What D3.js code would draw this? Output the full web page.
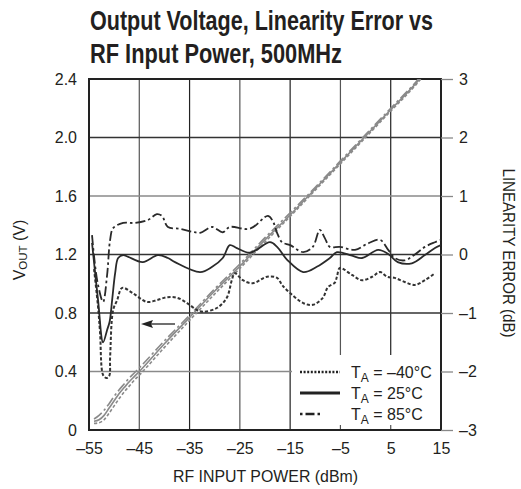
<!DOCTYPE html>
<html><head><meta charset="utf-8">
<script src="https://cdn.jsdelivr.net/npm/d3@7"></script>
<style>
html,body{margin:0;padding:0;background:#fff;}
svg{display:block;}
</style></head>
<body>
<svg id="chart" width="521" height="489"></svg>
<script>
// ---------- DATA ----------
const xTicks = [-55, -45, -35, -25, -15, -5, 5, 15];
const xTickLabels = ["–55", "–45", "–35", "–25", "–15", "–5", "5", "15"];
const yLeftTicks = [0, 0.4, 0.8, 1.2, 1.6, 2.0, 2.4];
const yLeftLabels = ["0", "0.4", "0.8", "1.2", "1.6", "2.0", "2.4"];
const yRightTicks = [-3, -2, -1, 0, 1, 2, 3];
const yRightLabels = ["–3", "–2", "–1", "0", "1", "2", "3"];

// Output voltage (V) vs RF input power (dBm)
const voutPin = [-54, -53, -52, -51, -50, -49, -48, -47, -46, -45, -40, -35, -30, -25, -20, -15, -10, -5, 0, 5, 10, 11];
const voutM40 = [0.045, 0.05, 0.07, 0.115, 0.165, 0.215, 0.26, 0.30, 0.34, 0.375, 0.565, 0.75, 0.93, 1.105, 1.285, 1.46, 1.64, 1.82, 2.0, 2.18, 2.36, 2.40];
const vout25  = [0.06, 0.07, 0.10, 0.15, 0.20, 0.25, 0.29, 0.33, 0.365, 0.40, 0.59, 0.77, 0.95, 1.12, 1.30, 1.47, 1.65, 1.83, 2.01, 2.19, 2.37, 2.41];
const vout85  = [0.075, 0.10, 0.135, 0.18, 0.23, 0.275, 0.315, 0.355, 0.39, 0.425, 0.61, 0.785, 0.965, 1.135, 1.315, 1.485, 1.66, 1.84, 2.02, 2.20, 2.38, 2.42];

// Linearity error (dB)
const errPinM40 = [-54, -53.2, -52.8, -52.2, -51.6, -51.0, -50.8, -50.2, -49.4, -48.4, -46.3, -43.5, -41.5, -39.5, -37.5, -35.5, -33.5, -32.3, -29.5, -27.6, -26.6, -26.0, -24.4, -22.4, -19.6, -17.6, -16.6, -15.0, -12.4, -10.5, -8.5, -7.5, -6.1, -5.7, -5.1, -2.7, -0.7, 1.3, 2.9, 4.3, 5.8, 7.8, 9.8, 11.8, 13.8];
const errM40    = [-0.25, -0.9, -1.34, -2.06, -2.11, -2.08, -1.75, -0.95, -0.78, -0.57, -0.66, -0.81, -0.78, -0.73, -0.74, -0.83, -0.95, -0.98, -0.91, -0.74, -0.44, -0.32, -0.44, -0.49, -0.38, -0.40, -0.52, -0.66, -0.83, -0.86, -0.74, -0.56, -0.48, -0.38, -0.23, -0.35, -0.44, -0.38, -0.30, -0.38, -0.40, -0.47, -0.52, -0.44, -0.32];

const errPin25 = [-54.4, -53.2, -52.2, -51.4, -50.9, -50.4, -49.8, -49.2, -48.2, -47.2, -44.3, -41.3, -39.3, -37.9, -32.9, -30.5, -28.4, -27.0, -25.6, -23.0, -19.0, -17.6, -15.6, -12.4, -9.7, -7.1, -5.7, -2.7, -0.7, 2.5, 4.5, 6.4, 9.2, 11.8, 13.8, 15];
const err25    = [0.2, -0.78, -1.5, -1.29, -1.15, -0.78, -0.32, -0.06, -0.01, -0.04, -0.13, -0.01, -0.06, -0.13, -0.30, -0.21, -0.06, 0.16, 0.11, 0.03, 0.21, 0.13, -0.09, -0.30, -0.21, -0.06, 0.04, -0.02, -0.06, 0.08, 0.01, -0.13, -0.15, -0.01, 0.11, 0.16];

const errPin85 = [-54.4, -53.8, -53.2, -52.2, -51.4, -50.8, -50.2, -48.2, -45.9, -43.3, -41.5, -40.5, -39.3, -36.9, -34.5, -32.9, -30.5, -28.4, -27.0, -23.0, -19.4, -18.4, -17.6, -16.6, -15.0, -12.4, -10.5, -9.1, -8.1, -7.1, -5.1, -2.1, 0.5, 2.9, 4.5, 5.8, 7.8, 9.8, 11.8, 13.8, 15];
const err85    = [0.33, -0.18, -0.52, -0.81, -0.35, 0.25, 0.45, 0.54, 0.54, 0.59, 0.69, 0.66, 0.47, 0.44, 0.39, 0.37, 0.47, 0.38, 0.47, 0.44, 0.66, 0.56, 0.37, 0.21, 0.16, 0.04, 0.13, 0.42, 0.28, 0.13, 0.13, 0.08, 0.19, 0.25, 0.08, -0.06, -0.10, 0.0, 0.13, 0.21, 0.25];

const legendLabels = [["T", "A", " = –40°C"], ["T", "A", " = 25°C"], ["T", "A", " = 85°C"]];

// ---------- DRAW ----------
const svg = d3.select("#chart");
const X0 = 89, X1 = 441, Y0 = 79, Y1 = 430;
const x = d3.scaleLinear().domain([-55, 15]).range([X0, X1]);
const yL = d3.scaleLinear().domain([0, 2.4]).range([Y1, Y0]);
const yR = d3.scaleLinear().domain([-3, 3]).range([Y1, Y0]);
const FONT = "'Liberation Sans', Arial, Helvetica, sans-serif";
const NARROW = "'Liberation Sans Narrow', 'Arial Narrow', 'Liberation Sans', Arial, sans-serif";
const INK = "#231f20";

// Title
const title = svg.append("g").attr("font-family", NARROW).attr("font-weight", "bold").attr("fill", INK).attr("font-size", 27);
title.append("text").attr("x", 90).attr("y", 30).attr("textLength", 343).attr("lengthAdjust", "spacingAndGlyphs").text("Output Voltage, Linearity Error vs");
title.append("text").attr("x", 90).attr("y", 63).attr("textLength", 252).attr("lengthAdjust", "spacingAndGlyphs").text("RF Input Power, 500MHz");

// clip
svg.append("defs").append("clipPath").attr("id", "plotclip")
  .append("rect").attr("x", X0).attr("y", Y0).attr("width", X1 - X0).attr("height", Y1 - Y0);

// Grid
const grid = svg.append("g");
grid.selectAll("line.v").data(xTicks.slice(1, -1)).enter().append("line")
  .attr("x1", d => x(d)).attr("x2", d => x(d)).attr("y1", Y0).attr("y2", Y1)
  .attr("stroke", (d, i) => (i % 2 === 1 ? "#222" : "#555")).attr("stroke-width", 1.2);
grid.selectAll("line.h").data(yLeftTicks.slice(1, -1)).enter().append("line")
  .attr("x1", X0).attr("x2", X1).attr("y1", d => yL(d)).attr("y2", d => yL(d))
  .attr("stroke", d => (Math.abs(d - 1.6) < 1e-6 || Math.abs(d - 0.4) < 1e-6) ? "#8a8a8a" : "#333").attr("stroke-width", 1.3);

// Legend background (hides grid)
svg.append("rect").attr("x", 292).attr("y", 355).attr("width", 148).attr("height", 74).attr("fill", "#fff");
// small bottom ticks inside legend area
svg.selectAll("line.bt").data([-5, 5]).enter().append("line")
  .attr("x1", d => x(d)).attr("x2", d => x(d)).attr("y1", Y1).attr("y2", Y1 - 5)
  .attr("stroke", "#555").attr("stroke-width", 1.2);

// Frame
svg.append("rect").attr("x", X0).attr("y", Y0).attr("width", X1 - X0).attr("height", Y1 - Y0)
  .attr("fill", "none").attr("stroke", "#222").attr("stroke-width", 2);

// Axes
const xAxis = svg.append("g").attr("transform", `translate(0,${Y1})`)
  .call(d3.axisBottom(x).tickValues(xTicks).tickFormat((d, i) => xTickLabels[i]).tickSize(0).tickPadding(13));
const yAxisL = svg.append("g").attr("transform", `translate(${X0},0)`)
  .call(d3.axisLeft(yL).tickValues(yLeftTicks).tickFormat((d, i) => yLeftLabels[i]).tickSize(0).tickPadding(12));
const yAxisR = svg.append("g").attr("transform", `translate(${X1},0)`)
  .call(d3.axisRight(yR).tickValues(yRightTicks).tickFormat((d, i) => yRightLabels[i]).tickSize(12).tickPadding(6));
[xAxis, yAxisL, yAxisR].forEach(a => {
  a.select(".domain").remove();
  a.selectAll("text").attr("font-family", FONT).attr("font-size", 16).attr("fill", INK);
});
yAxisR.selectAll(".tick line").attr("stroke", "#888").attr("stroke-width", 1.3);

// Axis titles
svg.append("text").attr("x", 265.5).attr("y", 482).attr("text-anchor", "middle")
  .attr("font-family", FONT).attr("font-size", 16).attr("fill", INK)
  .attr("textLength", 185).attr("lengthAdjust", "spacingAndGlyphs")
  .text("RF INPUT POWER (dBm)");
const vl = svg.append("text").attr("transform", "translate(25,250) rotate(-90)").attr("text-anchor", "middle")
  .attr("font-family", FONT).attr("font-size", 16).attr("fill", INK);
vl.append("tspan").text("V");
vl.append("tspan").attr("font-size", 11.5).attr("dy", 2).text("OUT");
vl.append("tspan").attr("dy", -2).text(" (V)");
svg.append("text").attr("transform", "translate(503,253) rotate(90)").attr("text-anchor", "middle")
  .attr("font-family", FONT).attr("font-size", 16).attr("fill", INK)
  .attr("textLength", 169).attr("lengthAdjust", "spacingAndGlyphs")
  .text("LINEARITY ERROR (dB)");

// Line styles
const styles = [
  { dash: "3.2,2", dashLeg: "2,1.6" },
  { dash: null, dashLeg: null },
  { dash: "10,3,2.5,3", dashLeg: "2.5,3,9,3,2.5,30" }
];

const plot = svg.append("g").attr("clip-path", "url(#plotclip)");

// VOUT curves (gray)
const voutSeries = [voutM40, vout25, vout85];
const lineV = d3.line().x(d => x(d[0])).y(d => yL(d[1])).curve(d3.curveMonotoneX);
voutSeries.forEach((s, k) => {
  plot.append("path").datum(voutPin.map((p, i) => [p, s[i]]))
    .attr("d", lineV).attr("fill", "none").attr("stroke", "#8a8a8a").attr("stroke-width", 1.6)
    .attr("stroke-dasharray", styles[k].dash);
});

// Linearity error curves (black)
const errSeries = [[errPinM40, errM40], [errPin25, err25], [errPin85, err85]];
const lineE = d3.line().x(d => x(d[0])).y(d => yR(d[1])).curve(d3.curveCatmullRom.alpha(0.5));
errSeries.forEach(([px, py], k) => {
  plot.append("path").datum(px.map((p, i) => [p, py[i]]))
    .attr("d", lineE).attr("fill", "none").attr("stroke", k === 0 ? "#333" : "#2a2a2a")
    .attr("stroke-width", k === 0 ? 2.0 : 1.8)
    .attr("stroke-dasharray", styles[k].dash);
});

// Arrow pointing to left axis
svg.append("line").attr("x1", 175).attr("x2", 150).attr("y1", 324).attr("y2", 324)
  .attr("stroke", "#222").attr("stroke-width", 1.3);
svg.append("path").attr("d", "M141,324 L153,320 L151,324 L153,328 Z").attr("fill", "#222");

// Legend
const legY = [372, 393, 414];
legendLabels.forEach((lab, k) => {
  svg.append("line").attr("x1", 300).attr("x2", 340).attr("y1", legY[k]).attr("y2", legY[k])
    .attr("stroke", "#222").attr("stroke-width", k === 1 ? 3 : 2.6)
    .attr("stroke-dasharray", styles[k].dashLeg);
  const t = svg.append("text").attr("x", 351).attr("y", legY[k] + 6)
    .attr("font-family", FONT).attr("font-size", 16).attr("fill", INK);
  t.append("tspan").text(lab[0]);
  t.append("tspan").attr("font-size", 12).attr("dy", 4).text(lab[1]);
  t.append("tspan").attr("dy", -4).text(lab[2]);
});
</script>
</body></html>
